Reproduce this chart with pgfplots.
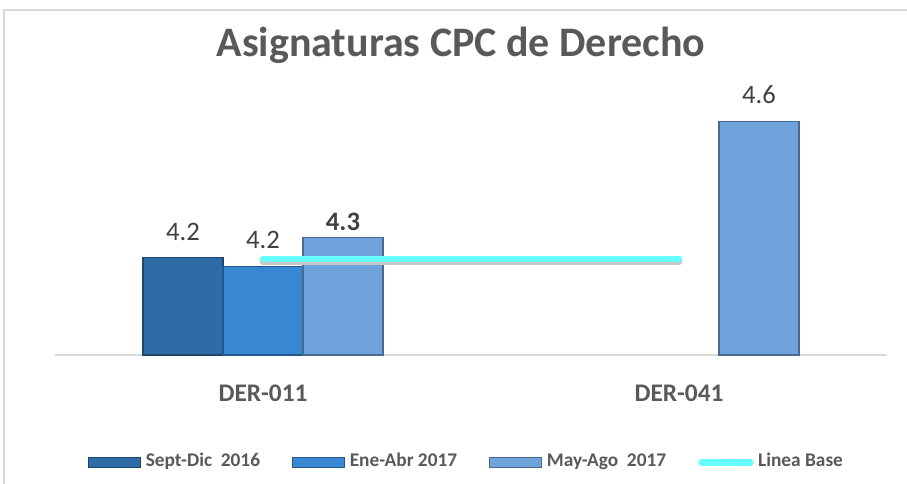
\documentclass[border=0pt]{standalone}
\usepackage{pgfplots}
\pgfplotsset{compat=1.18}
\usepackage{fontspec}
\setmainfont{Carlito}
\definecolor{txt}{HTML}{595959}
\definecolor{vtxt}{HTML}{404040}
\definecolor{cA}{HTML}{2E6CA8}
\definecolor{cB}{HTML}{3787D2}
\definecolor{cC}{HTML}{6FA3DC}
\definecolor{base}{HTML}{66FFFF}
\definecolor{frame}{HTML}{D9D9D9}
\newcommand{\lowbold}[1]{\raisebox{-7.5pt}[0pt][0pt]{\bfseries #1}}
\begin{document}
\begin{tikzpicture}
\path[use as bounding box] (-41.25pt,-96.75pt) rectangle (639pt,266.25pt);
\draw[frame, line width=1.5pt] (-38.25pt,-96.75pt) -- (-38.25pt,258.75pt) -- (639pt,258.75pt);
\begin{axis}[
  scale only axis,
  width=624pt, height=203pt,
  xmin=-0.5, xmax=1.5,
  ymin=4, ymax=4.7,
  axis x line*=bottom,
  hide y axis,
  x axis line style={frame, line width=1.5pt},
  xtick={0,1},
  xticklabels={DER-011,DER-041},
  major tick length=0pt,
  xticklabel style={font=\fontsize{19}{21}\selectfont\bfseries, text=txt, yshift=-19pt},
  bar width=0.1923,
  bar shift=0,
  point meta=explicit symbolic,
  nodes near coords,
  every node near coord/.append style={font=\fontsize{20}{22}\selectfont, text=vtxt, yshift=9pt},
  legend columns=4,
  legend style={at={(0.495,-0.398)}, anchor=center, draw=none, fill=none,
    font=\fontsize{14.5}{16}\selectfont\bfseries, text=txt,
    nodes={text height=1.6ex, text depth=0.45ex},
    /tikz/every even column/.append style={column sep=22pt},
    /tikz/every odd column/.append style={column sep=1.5pt}},
  legend image code/.code={\draw[#1, line width=0.8pt] (0pt,-3.6pt) rectangle (39pt,3.6pt);},
  clip=false,
]
\addplot[ybar, fill=cA, draw=cA!65!black, line width=0.8pt]
  coordinates {(-0.1923,4.252) [4.2]};
\addlegendentry{Sept-Dic~ 2016}
\addplot[ybar, fill=cB, draw=cB!65!black, line width=0.8pt]
  coordinates {(0,4.23) [4.2]};
\addlegendentry{Ene-Abr 2017}
\addplot[ybar, fill=cC, draw=cC!65!black, line width=0.8pt]
  coordinates {(0.1923,4.305) [{\lowbold{4.3}}] (1.1923,4.605) [4.6]};
\addlegendentry{May-Ago~ 2017}
\addplot[sharp plot, no marks, forget plot, draw=black!22, line width=5pt, line cap=round, yshift=-2pt, nodes near coords=]
  coordinates {(0,4.248) [] (1,4.248) []};
\addplot[sharp plot, no marks, draw=base, line width=5pt, line cap=round, nodes near coords=,
  legend image code/.code={\draw[base, line width=5pt, line cap=round] (1.5pt,0pt) -- (38pt,0pt);}]
  coordinates {(0,4.248) [] (1,4.248) []};
\addlegendentry{Linea Base}
\end{axis}
\node[font=\fontsize{31.5}{35}\selectfont\bfseries, text=txt] at (304.5pt,232.5pt) {Asignaturas CPC de Derecho};
\end{tikzpicture}
\end{document}
